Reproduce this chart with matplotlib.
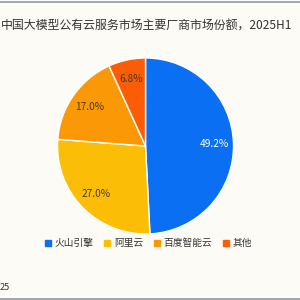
import matplotlib.pyplot as plt
from matplotlib.lines import Line2D

plt.rcParams['font.family'] = ['Noto Sans CJK SC', 'DejaVu Sans']

# datos
categorias = ['火山引擎', '阿里云', '百度智能云', '其他']
valores = [49.2, 27.0, 17.0, 6.8]
colores = ['#0b6ff4', '#fbbd06', '#fb9806', '#fb5d06']
titulo = '中国大模型公有云服务市场主要厂商市场份额，2025H1'

fig = plt.figure(figsize=(3, 3), dpi=100)
fig.patch.set_facecolor('#fdfbf6')

# pie
ax = fig.add_axes([0.1917, 0.22, 0.5867, 0.5867])
wedges, textos, autotextos = ax.pie(
    valores, colors=colores, startangle=90, counterclock=False,
    autopct='%1.1f%%', pctdistance=0.78,
    wedgeprops=dict(edgecolor='white', linewidth=1))
for i, t in enumerate(autotextos):
    t.set_fontsize(7.3)
    t.set_color('white' if i == 0 else '#4a3a22')
ax.set_xlim(-1, 1)
ax.set_ylim(-1, 1)
ax.set_aspect('equal')

# titulo
fig.text(0.002, 0.913, titulo, fontsize=8.6, color='#333333', ha='left', va='center')

# leyenda
handles = [Line2D([], [], marker='s', linestyle='', markersize=4,
                  markerfacecolor=c, markeredgecolor=c) for c in colores]
fig.legend(handles, categorias, loc='center', bbox_to_anchor=(0.495, 0.19),
           ncol=4, frameon=False, fontsize=7, handlelength=0.6,
           handletextpad=0.4, columnspacing=1.1, labelcolor='#333333')

fig.text(0.0, 0.043, '25', fontsize=6.5, color='#333333', ha='left', va='center')

# bordes
fig.add_artist(Line2D([0, 1], [0.995, 0.995], color='#8a9aa8', linewidth=1.2))
fig.add_artist(Line2D([0, 1], [0.005, 0.005], color='#8a9aa8', linewidth=1.2))

fig.savefig('out.png', dpi=100, facecolor=fig.get_facecolor())
